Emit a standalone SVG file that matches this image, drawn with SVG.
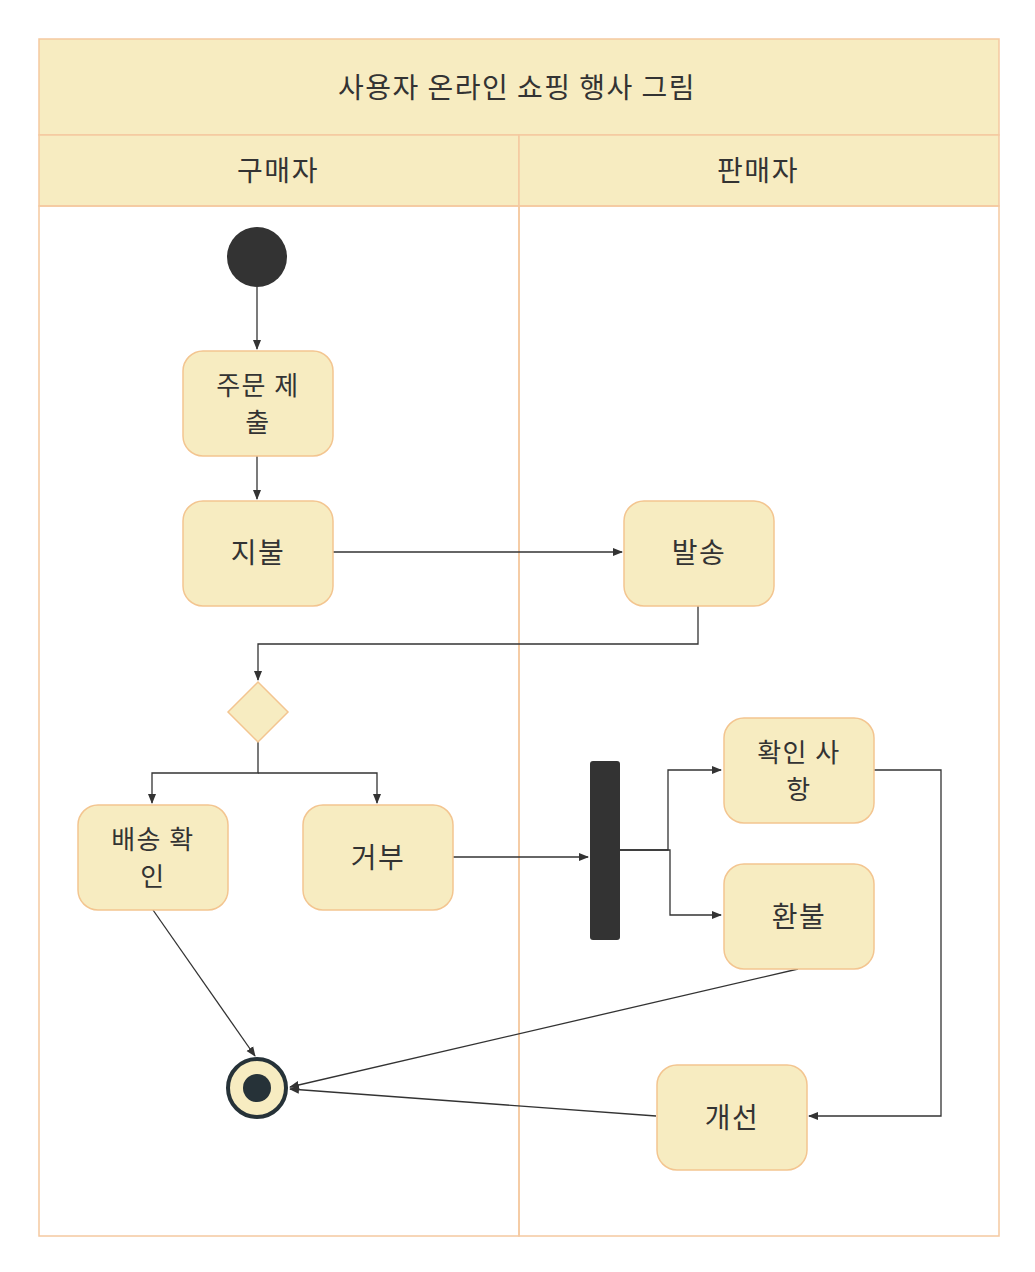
<svg xmlns="http://www.w3.org/2000/svg" width="1035" height="1272" viewBox="0 0 1035 1272">
<style>
.lane{fill:none;stroke:#f5c9a0;stroke-width:1.5}
.hdr{fill:#f7ecc1;stroke:#f5c9a0;stroke-width:1.5}
.n{fill:#f7ecc1;stroke:#f3c590;stroke-width:1.5}
.t{font-family:"Noto Sans CJK KR","Noto Sans",sans-serif;font-size:28px;letter-spacing:1.5px;fill:#333;text-anchor:middle}
.s{font-size:26px}
.c{fill:none;stroke:#333;stroke-width:1.3;marker-end:url(#a)}
</style>
<defs><marker id="a" markerWidth="10" markerHeight="10" refX="9" refY="5" orient="auto" markerUnits="userSpaceOnUse"><path d="M0,1 L10,5 L0,9 Z" fill="#333"/></marker></defs>
<rect width="1035" height="1272" fill="#fff"/>
<g id="pool">
<rect class="hdr" x="39" y="39" width="960" height="96"/>
<text class="t" x="517" y="98">사용자 온라인 쇼핑 행사 그림</text>
<rect class="hdr" x="39" y="135" width="480" height="71"/>
<rect class="hdr" x="519" y="135" width="480" height="71"/>
<text class="t" x="278" y="181">구매자</text>
<text class="t" x="758" y="181">판매자</text>
<rect class="lane" x="39" y="206" width="480" height="1030"/>
<rect class="lane" x="519" y="206" width="480" height="1030"/>
</g>
<g id="connectors">
<path class="c" d="M257,287 V349"/>
<path class="c" d="M257,456 V499"/>
<path class="c" d="M333,552 H622"/>
<path class="c" d="M698,606 V644 H258 V680"/>
<path class="c" d="M258,742 V773 H152 V803"/>
<path class="c" d="M258,773 H377 V803"/>
<path class="c" d="M453,857 H588"/>
<path class="c" d="M620,850 H668 V770 H721"/>
<path class="c" d="M620,850 H670 V915 H721"/>
<path class="c" d="M874,770 H941 V1116 H809"/>
<path class="c" d="M153,910 L255,1056"/>
<path class="c" d="M798,969 L290,1087"/>
<path class="c" d="M656,1116 L290,1089"/>
</g>
<g id="start"><circle cx="257" cy="257" r="30" fill="#333"/></g>
<g id="order"><rect class="n" x="183" y="351" width="150" height="105" rx="20"/><text class="t s" x="258" y="395">주문 제</text><text class="t s" x="258" y="432">출</text></g>
<g id="pay"><rect class="n" x="183" y="501" width="150" height="105" rx="20"/><text class="t" x="258" y="563">지불</text></g>
<g id="ship"><rect class="n" x="624" y="501" width="150" height="105" rx="20"/><text class="t" x="699" y="563">발송</text></g>
<g id="decision"><path class="n" d="M258,682 L288,712 L258,742 L228,712 Z"/></g>
<g id="confirm"><rect class="n" x="78" y="805" width="150" height="105" rx="20"/><text class="t s" x="153" y="849">배송 확</text><text class="t s" x="153" y="886">인</text></g>
<g id="reject"><rect class="n" x="303" y="805" width="150" height="105" rx="20"/><text class="t" x="378" y="868">거부</text></g>
<g id="fork"><rect x="590" y="761" width="30" height="179" rx="3" fill="#333"/></g>
<g id="check"><rect class="n" x="724" y="718" width="150" height="105" rx="20"/><text class="t s" x="799" y="762">확인 사</text><text class="t s" x="799" y="799">항</text></g>
<g id="refund"><rect class="n" x="724" y="864" width="150" height="105" rx="20"/><text class="t" x="799" y="927">환불</text></g>
<g id="improve"><rect class="n" x="657" y="1065" width="150" height="105" rx="20"/><text class="t" x="732" y="1128">개선</text></g>
<g id="end"><circle cx="257" cy="1088" r="29" fill="#f7ecc1" stroke="#263238" stroke-width="4"/><circle cx="257" cy="1088" r="14" fill="#263238"/></g>
</svg>
